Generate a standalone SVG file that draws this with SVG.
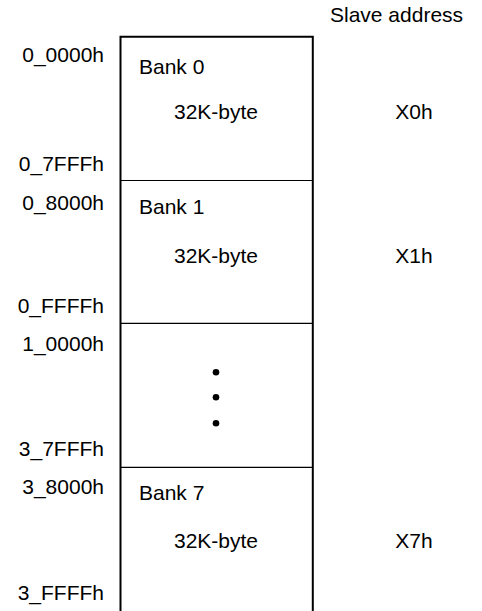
<svg xmlns="http://www.w3.org/2000/svg" width="482" height="611" viewBox="0 0 482 611">
<style>
text{font-family:"Liberation Sans",Arial,sans-serif;font-size:21px;fill:#000}
.addr{text-anchor:end}
.mid{text-anchor:middle}
.outer{fill:none;stroke:#000;stroke-width:2}
.div{stroke:#000;stroke-width:1.2}
</style>
<rect width="482" height="611" fill="#fff"/>
<text id="title" x="330" y="22">Slave address</text>
<g id="memory">
<path class="outer" d="M120.5,611 V36.8 H312.8 V611"/>
</g>
<g id="connectors">
<line class="div" x1="120.5" y1="180.5" x2="312.8" y2="180.5"/>
<line class="div" x1="120.5" y1="323.3" x2="312.8" y2="323.3"/>
<line class="div" x1="120.5" y1="467.3" x2="312.8" y2="467.3"/>
</g>
<g id="bank0">
<text x="139" y="74">Bank 0</text>
<text class="mid" x="216" y="119.3">32K-byte</text>
<text class="mid" x="414" y="119.3">X0h</text>
<text class="addr" x="104" y="61.7">0_0000h</text>
<text class="addr" x="104" y="170.7">0_7FFFh</text>
</g>
<g id="bank1">
<text x="139" y="214.3">Bank 1</text>
<text class="mid" x="216" y="263.3">32K-byte</text>
<text class="mid" x="414" y="263.3">X1h</text>
<text class="addr" x="104" y="210">0_8000h</text>
<text class="addr" x="104" y="313.3">0_FFFFh</text>
</g>
<g id="ellipsis">
<circle cx="216" cy="372.3" r="3.3"/>
<circle cx="216" cy="397.3" r="3.3"/>
<circle cx="216" cy="423.3" r="3.3"/>
<text class="addr" x="104" y="350.7">1_0000h</text>
<text class="addr" x="104" y="455.7">3_7FFFh</text>
</g>
<g id="bank7">
<text x="139" y="500">Bank 7</text>
<text class="mid" x="216" y="547.7">32K-byte</text>
<text class="mid" x="414" y="547.7">X7h</text>
<text class="addr" x="104" y="494.3">3_8000h</text>
<text class="addr" x="104" y="600">3_FFFFh</text>
</g>
</svg>
